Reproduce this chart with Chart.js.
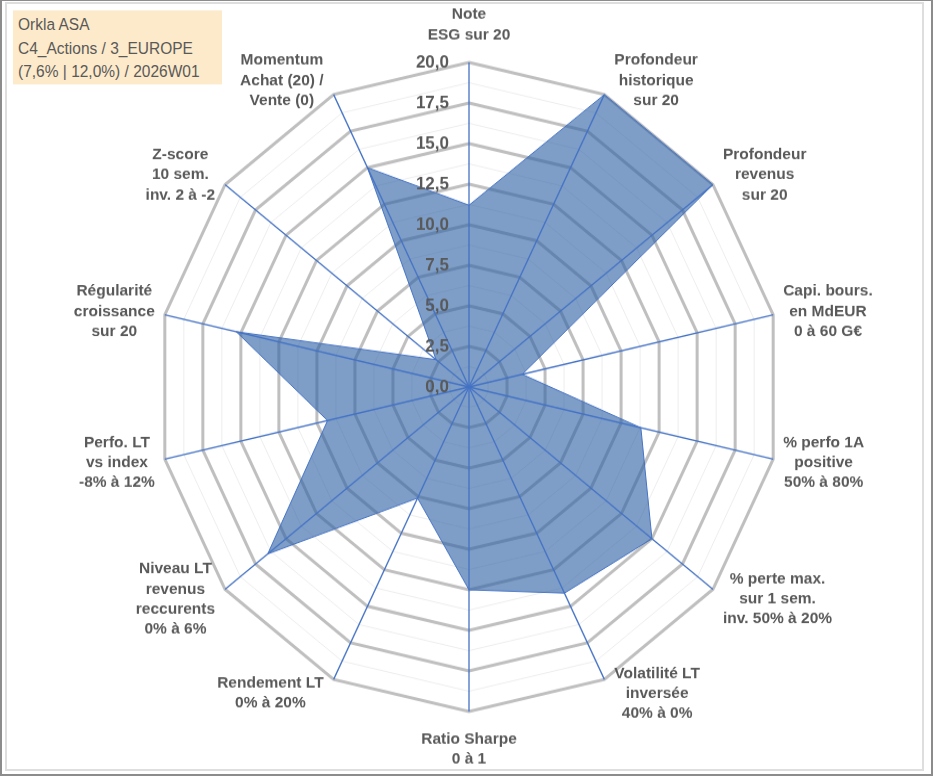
<!DOCTYPE html>
<html>
<head>
<meta charset="utf-8">
<script src="https://cdn.jsdelivr.net/npm/chart.js@4.4.1/dist/chart.umd.min.js"></script>
<style>
  html, body { margin: 0; padding: 0; background: #fff; }
  #frame {
    position: absolute; left: 0; top: 0; width: 929px; height: 773px;
    border-left: 2px solid #8c8c8c; border-right: 2px solid #8c8c8c;
    border-top: 1px solid #8c8c8c; border-bottom: 2px solid #8c8c8c;
  }
  #inner {
    position: absolute; left: 5px; top: 2px; width: 915px; height: 765px;
    border: 2px solid #dedede;
  }
  #wrap {
    position: absolute; left: 0; top: 0; width: 933px; height: 746px;
    transform: scaleY(1.0402); transform-origin: 0 0;
  }
  #titleBox {
    position: absolute; left: 13px; top: 10px; width: 209px; height: 71px;
    background: #fdeacb; color: #595959;
    font: 15.5px "Liberation Sans", Arial, sans-serif;
    line-height: 22.5px; padding: 3px 0 0 5px; box-sizing: border-box;
  }
</style>
</head>
<body>
<div id="frame"></div>
<div id="inner"></div>
<div id="wrap">
  <canvas id="myChart"></canvas>
  <div id="titleBox">Orkla ASA<br>C4_Actions / 3_EUROPE<br>(7,6% | 12,0%) / 2026W01</div>
</div>
<script>
const categories = [
  ["Note", "ESG sur 20"],
  ["Profondeur", "historique", "sur 20"],
  ["Profondeur", "revenus", "sur 20"],
  ["Capi. bours.", "en MdEUR", "0 à 60 G€"],
  ["% perfo 1A", "positive", "50% à 80%"],
  ["% perte max.", "sur 1 sem.", "inv. 50% à 20%"],
  ["Volatilité LT", "inversée", "40% à 0%"],
  ["Ratio Sharpe", "0 à 1"],
  ["Rendement LT", "0% à 20%"],
  ["Niveau LT", "revenus", "reccurents", "0% à 6%"],
  ["Perfo. LT", "vs index", "-8% à 12%"],
  ["Régularité", "croissance", "sur 20"],
  ["Z-score", "10 sem.", "inv. 2 à -2"],
  ["Momentum", "Achat (20) /", "Vente (0)"],
];
const scores = [11.2, 20, 20, 3.5, 11.3, 15, 14.1, 12.5, 7.6, 16.5, 9.3, 15.3, 2.7, 15];
const tickValues = [0, 2.5, 5, 7.5, 10, 12.5, 15, 17.5, 20];

const textColor = "#595959";

// spokes, tick labels and point labels drawn on top of the filled polygon
const radarDecor = {
  id: "radarDecor",
  afterDatasetsDraw(chart) {
    const scale = chart.scales.r;
    const ctx = chart.ctx;
    ctx.save();
    ctx.strokeStyle = "#4472c4";
    ctx.lineWidth = 1.3;
    categories.forEach((c, i) => {
      const p = scale.getPointPosition(i, scale.drawingArea);
      ctx.beginPath();
      ctx.moveTo(scale.xCenter, scale.yCenter);
      ctx.lineTo(p.x, p.y);
      ctx.stroke();
    });

    ctx.fillStyle = textColor;
    ctx.font = "bold 17px 'Liberation Sans', Arial, sans-serif";
    ctx.textAlign = "right";
    ctx.textBaseline = "middle";
    tickValues.forEach((v) => {
      const y = scale.yCenter - scale.getDistanceFromCenterForValue(v);
      ctx.fillText(v.toFixed(1).replace(".", ","), scale.xCenter - 20, y);
    });

    ctx.font = "bold 15.5px 'Liberation Sans', Arial, sans-serif";
    ctx.textAlign = "center";
    const lineH = 19.2;
    categories.forEach((lines, i) => {
      const p = scale.getPointPosition(i, scale.drawingArea);
      const ca = Math.cos(p.angle);
      const sa = Math.sin(p.angle);
      const blockH = lines.length * lineH;
      let cx, cy;
      if (Math.abs(ca) < 0.01) {
        cx = p.x;
        cy = p.y + Math.sign(sa) * (blockH / 2 + 17);
      } else {
        const w = Math.max(...lines.map((l) => ctx.measureText(l).width));
        cx = p.x + Math.sign(ca) * (w / 2 + 10);
        cy = p.y + sa * 15;
      }
      lines.forEach((l, k) => {
        ctx.fillText(l, cx, cy - blockH / 2 + lineH * (k + 0.5));
      });
    });
    ctx.restore();
  },
};

const ctx = document.getElementById("myChart").getContext("2d");
new Chart(ctx, {
  type: "radar",
  data: {
    labels: categories,
    datasets: [
      {
        data: scores,
        backgroundColor: "rgba(46, 98, 165, 0.62)",
        borderColor: "#4472c4",
        borderWidth: 1,
        pointRadius: 0,
        pointHoverRadius: 0,
      },
    ],
  },
  options: {
    responsive: true,
    maintainAspectRatio: false,
    animation: false,
    layout: { padding: { left: 5, right: 0, top: 60, bottom: 62 } },
    plugins: {
      legend: { display: false },
      tooltip: { enabled: false },
    },
    scales: {
      r: {
        min: 0,
        max: 20,
        ticks: { stepSize: 1.25, display: false },
        pointLabels: { display: false },
        angleLines: { display: false },
        grid: {
          color: (c) => (c.tick && c.tick.value % 2.5 === 0 ? "#bfbfbf" : "#ededed"),
          lineWidth: (c) => (c.tick && c.tick.value % 2.5 === 0 ? 3 : 1),
        },
      },
    },
  },
  plugins: [radarDecor],
});
</script>
</body>
</html>
